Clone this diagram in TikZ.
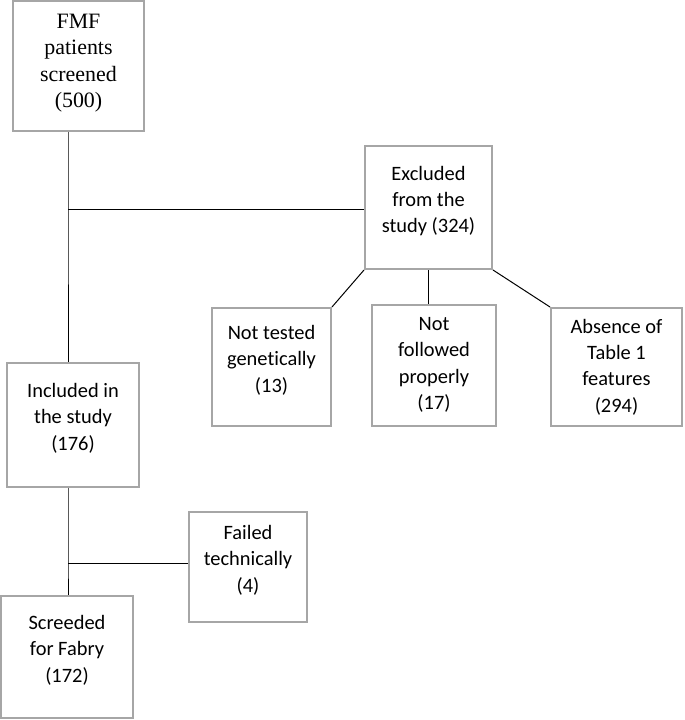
\documentclass[tikz,border=0pt]{standalone}
\usepackage{fontspec}
\setmainfont{Carlito}[Ligatures=CommonOff]
\newfontfamily\serifface{Liberation Serif}
\definecolor{boxgray}{HTML}{A6A6A6}
\begin{document}
\begin{tikzpicture}[x=1bp,y=-1bp,
  box/.style={draw=boxgray, line width=2bp, inner sep=0pt},
  txt/.style={align=center, inner sep=0pt, font=\fontsize{20.5}{26.5}\selectfont},
  link/.style={draw=black, line width=1bp}]
\useasboundingbox (0,0) rectangle (685,720);
% boxes
\node[box, minimum width=131bp, minimum height=130bp] (fmf) at (78.5,66) {};
\node[box, minimum width=127bp, minimum height=123bp] (excl) at (428.5,207.5) {};
\node[box, minimum width=119bp, minimum height=118bp] (nt) at (271.5,367) {};
\node[box, minimum width=124bp, minimum height=121bp] (nf) at (434,365.5) {};
\node[box, minimum width=131bp, minimum height=118bp] (ab) at (616.5,367) {};
\node[box, minimum width=132bp, minimum height=124bp] (incl) at (73,425) {};
\node[box, minimum width=118bp, minimum height=110bp] (fail) at (248,567) {};
\node[box, minimum width=132bp, minimum height=122bp] (scr) at (67,657) {};
% texts
\node[txt, font=\serifface\fontsize{22}{26.5}\selectfont] (fmf-t) at (78.5,63) {FMF\\patients\\screened\\(500)};
\node[txt] (excl-t) at (428.5,201) {Excluded\\from the\\study (324)};
\node[txt] (nt-t) at (271.5,360) {Not tested\\genetically\\(13)};
\node[txt] (nf-t) at (434,365) {Not\\followed\\properly\\(17)};
\node[txt] (ab-t) at (616.5,367) {Absence of\\Table 1\\features\\(294)};
\node[txt] (incl-t) at (73,418) {Included in\\the study\\(176)};
\node[txt] (fail-t) at (248,560) {Failed\\technically\\(4)};
\node[txt] (scr-t) at (67,650) {Screeded\\for Fabry\\(172)};
% junctions
\coordinate (j1) at (68,209);
\coordinate (j2) at (68,563);
% connectors
\draw[link] (fmf.south -| j1) -- (j1) -- (incl.north -| j1);
\draw[link] (j1) -- (j1 -| excl.west);
\draw[link] (excl.south west) -- (nt.north east);
\draw[link] (excl.south) -- (excl.south |- nf.north);
\draw[link] (excl.south east) -- (ab.north west);
\draw[link] (incl.south -| j2) -- (j2) -- (scr.north -| j2);
\draw[link] (j2) -- (j2 -| fail.west);
\end{tikzpicture}
\end{document}
